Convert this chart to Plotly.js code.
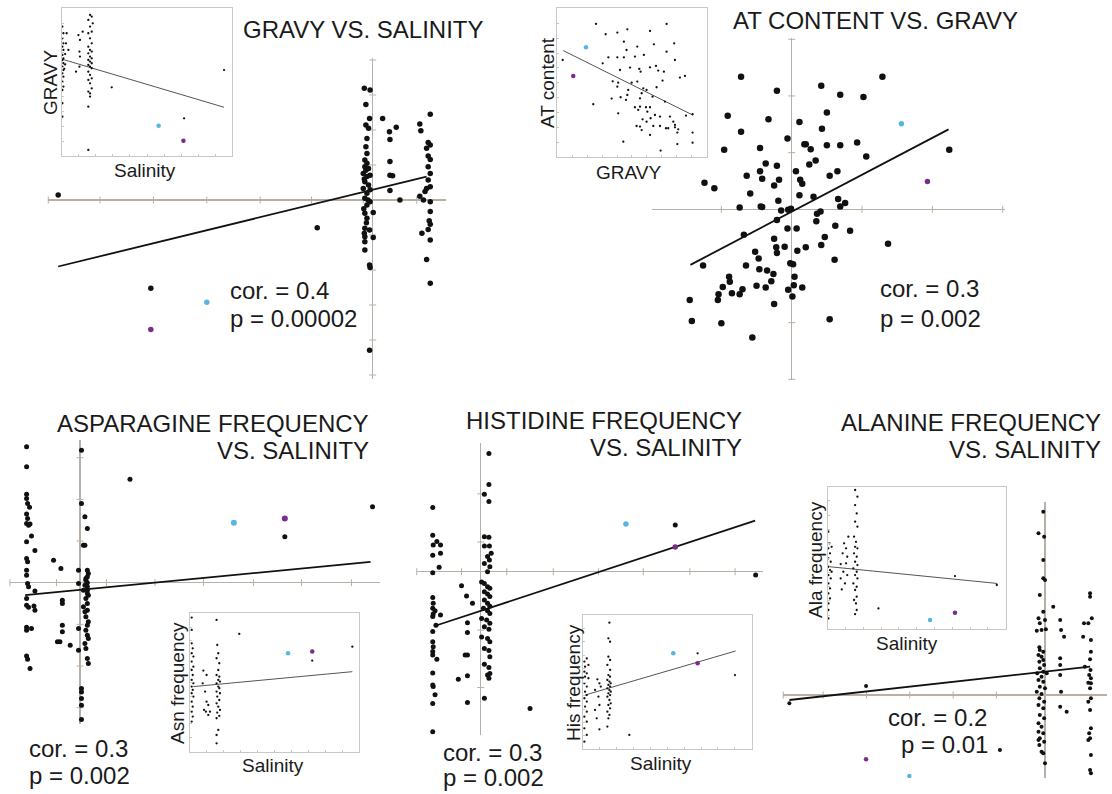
<!DOCTYPE html>
<html><head><meta charset="utf-8">
<script src="https://cdn.plot.ly/plotly-3.0.1.min.js"></script>
<style>html,body{margin:0;padding:0;background:#fff}#chart{width:1112px;height:794px}</style>
</head><body><div id="chart"></div><script>
// ---------- Panel 1: GRAVY vs salinity (main) ----------
const gravySalPts = [[-0.16,3.19],[-0.05,3.14],[-0.13,2.73],[-0.06,2.33],[-0.13,2.14],[-0.08,2.05],[-0.11,1.76],[-0.13,1.52],[-0.11,1.33],[-0.15,1.14],[-0.11,1.05],[-0.15,0.95],[-0.08,0.90],[-0.18,0.76],[-0.11,0.67],[-0.05,0.71],[-0.15,0.52],[-0.08,0.43],[-0.18,0.33],[-0.05,0.29],[-0.11,0.19],[-0.15,0.05],[-0.05,-0.05],[-0.11,-0.14],[0.01,-0.36],[-0.15,-0.38],[-0.11,-0.52],[-0.15,-0.81],[-0.06,-0.86],[0.01,-1.07],[-0.15,-1.05],[-0.15,-1.19],[-0.15,-1.43],[-0.06,-1.86],[-0.05,-1.93],[-0.13,0.85],[-0.16,0.60],[-0.09,0.0],[-0.17,-0.25],[-0.12,-0.65],[-0.16,-0.95],
[0.19,2.33],[0.32,1.95],[0.45,2.08],[0.33,1.73],[0.33,1.10],[0.33,0.71],[0.38,0.69],[0.33,0.27],[0.52,0.0],
[1.10,2.45],[0.90,2.17],[0.92,1.98],[1.06,1.64],[1.10,1.57],[1.03,1.48],[1.06,1.26],[1.10,1.16],[1.06,0.95],[1.10,0.76],[1.06,0.57],[1.10,0.38],[1.03,0.33],[1.0,0.24],[0.90,0.11],[0.97,0],[1.10,-0.05],[1.10,-0.33],[1.08,-0.59],[1.10,-0.69],[1.06,-0.84],[0.94,-0.95],[1.10,-1.14],[1.03,-1.70],[1.10,-2.38],
[-6.01,0.14],[-1.06,-0.79],[-4.24,-2.52],[-0.06,-4.29]];
const gravySalCyan = [[-3.17,-2.92]];
const gravySalPurple = [[-4.24,-3.70]];
const gravySalFitX = [-6.01,1.03];
const gravySalFitY = [-1.90,0.67];
const gravySalTickX = [-6.2,-5.21,-4.19,-3.17,-2.15,-1.17,-0.18,0.84];
const gravySalTickY = [-5,-4,-3,-2,-1,1,2,3,4];
// inset
const gravySalInPts = [[0.04,8.76],[0.1,8.31],[0.04,7.97],[0.1,7.63],[0.04,7.40],[0.1,7.18],[0.04,6.84],[0.1,6.61],[0.04,6.50],[0.1,6.28],[0.04,6.05],[0.1,5.82],[0.04,5.60],[0.1,5.37],[0.04,5.03],[0.1,4.70],[0.04,4.47],[0.04,3.57],[0.04,2.66],[0.2,6.9],[0.2,6.2],[0.15,5.9],
[0.29,8.31],[0.25,7.63],[0.39,7.18],[0.98,8.19],[1.07,7.86],[1.04,7.07],[1.07,6.73],[0.84,5.71],[1.04,6.05],[1.23,8.42],
[1.66,9.55],[1.76,9.44],[1.56,9.21],[1.82,8.98],[1.66,8.76],[1.76,8.42],[1.56,8.31],[1.66,7.97],[1.76,7.63],[1.56,7.40],[1.66,7.18],[1.76,7.07],[1.56,6.95],[1.66,6.73],[1.76,6.61],[1.56,6.50],[1.66,6.39],[1.76,6.28],[1.56,6.16],[1.66,6.05],[1.76,5.94],[1.56,5.71],[1.66,5.49],[1.76,5.26],[1.56,5.15],[1.66,4.92],[1.76,4.58],[1.56,4.36],[1.66,4.24],[1.66,4.02],[1.56,3.34],[1.56,0.41],
[2.93,4.65],[9.51,5.82],[7.17,2.55]];
const gravySalInCyan = [[5.68,2.05]];
const gravySalInPurple = [[7.13,1.04]];
const gravySalInFitX = [0.04,9.51];
const gravySalInFitY = [6.55,3.30];

// ---------- Panel 2: AT content vs GRAVY ----------
const atGravyPts = [[-0.72,2.34],[-0.21,2.09],[0.42,2.18],[0.69,2.02],[1.29,2.34],[1.02,1.98],[-0.91,1.65],[-0.33,1.59],[0.11,1.54],[0.50,1.71],[-0.72,1.37],[0.43,1.42],[-0.06,1.25],[-0.96,1.05],[-0.45,1.08],[0.18,1.15],[0.20,1.15],[0.27,1.06],[0.50,1.13],[0.69,1.13],[0.93,1.18],[1.06,0.93],[2.24,1.05],[-0.37,0.81],[-0.21,0.77],[-0.45,0.67],[0.06,0.67],[0.25,0.79],[0.34,0.86],[0.65,0.67],[0.54,0.59],[-0.64,0.59],[-0.42,0.54],[-0.18,0.52],[0.12,0.52],[-0.25,0.42],[0.15,0.45],[-1.24,0.47],[-1.10,0.37],[-0.59,0.28],[0.31,0.22],[0.66,0.18],[0.76,0.11],[0.11,0.25],[-0.19,0.15],[-0.74,0.03],[-0.44,0.05],[-0.42,0.04],[-0.15,-0.02],[-0.05,-0.01],[-0.01,0.01],[0.69,0.05],[0.41,-0.04],[0.36,-0.08],[-0.21,-0.19],[-0.06,-0.34],[0.07,-0.34],[0.35,-0.21],[0.47,-0.49],[0.62,-0.29],[0.83,-0.38],[-0.68,-0.45],[0.61,-0.89],[1.37,-0.61],[-0.25,-0.52],[-0.22,-0.67],[-0.10,-0.66],[-0.21,-0.77],[0.08,-0.73],[0.20,-0.67],[0.42,-0.63],[-0.52,-0.75],[-0.47,-0.87],[-0.65,-0.99],[-0.02,-0.95],[0.02,-0.97],[-0.46,-1.06],[-0.26,-1.14],[-0.35,-1.08],[-0.29,-1.27],[0.04,-1.19],[-0.89,-1.19],[-0.88,-1.28],[-0.98,-1.37],[-1.04,-1.50],[-1.05,-1.60],[-0.85,-1.48],[-0.74,-1.50],[-0.70,-1.41],[-0.50,-1.35],[-0.37,-1.38],[0.03,-1.34],[0.15,-1.38],[-0.05,-1.42],[0.01,-1.54],[-0.25,-1.67],[-1.45,-1.60],[-1.42,-1.97],[-1.00,-2.01],[-0.56,-2.26],[0.54,-1.94],[-1.26,-0.99]];
const atGravyCyan = [[1.56,1.51]];
const atGravyPurple = [[1.93,0.49]];
const atGravyFitX = [-1.44,2.23];
const atGravyFitY = [-0.98,1.41];
const atGravyTickX = [-2,-1,1,2,3];
const atGravyTickY = [-3,-2,-1,1,2,3];
const atGravyInPts = [[0.36,6.53],[2.59,8.95],[3.24,8.26],[4.02,8.37],[4.69,8.59],[6.21,8.48],[7.32,8.95],[4.46,7.76],[6.47,7.58],[7.83,7.65],[5.36,7.43],[7.32,7.09],[3.42,6.71],[4.02,6.71],[4.46,6.71],[5.20,6.76],[4.64,7.20],[3.04,6.31],[5.80,6.87],[7.88,6.53],[6.21,6.04],[6.61,6.13],[6.76,5.82],[7.14,5.75],[4.20,5.86],[4.87,6.02],[5.49,5.93],[5.58,5.75],[8.21,5.35],[8.55,5.46],[3.71,5.10],[4.08,5.01],[5.36,5.08],[7.05,5.15],[4.98,5.01],[4.02,4.74],[5.76,4.63],[5.98,4.52],[4.75,4.52],[6.65,4.70],[5.65,4.30],[4.69,4.18],[3.64,3.94],[4.24,4.03],[5.54,3.96],[6.38,4.07],[2.41,3.56],[4.60,3.85],[7.21,3.74],[5.54,3.40],[5.20,3.36],[5.94,3.36],[6.21,3.36],[5.42,3.18],[6.03,3.06],[4.08,2.95],[8.62,2.80],[9.06,2.89],[6.54,2.84],[6.88,2.73],[7.54,2.73],[6.25,2.62],[5.71,2.55],[7.77,2.39],[7.88,2.17],[5.31,2.10],[5.54,2.06],[6.43,2.10],[6.88,2.10],[7.28,1.95],[7.43,1.95],[7.88,2.01],[8.10,1.88],[8.04,1.66],[9.06,1.66],[6.21,1.50],[4.42,1.05],[8.04,0.89],[9.06,0.98],[6.92,0.45],[5.65,1.83],[5.98,2.39]];
const atGravyInCyan = [[1.92,7.38]];
const atGravyInPurple = [[1.07,5.46]];
const atGravyInFitX = [0.40,9.06];
const atGravyInFitY = [7.16,2.84];

// ---------- Panel 3: Asparagine frequency vs salinity ----------
const asnSalPts = [[-1.09,3.26],[-1.09,2.78],[-1.09,2.12],[-1.09,2.02],[-1.07,1.90],[-1.03,1.81],[-1.09,1.65],[-1.07,1.54],[-1.09,1.42],[-1.05,1.38],[-1.02,1.41],[-0.99,1.12],[-1.09,0.98],[-0.92,0.77],[-1.09,0.58],[-1.07,0.50],[-1.09,0.18],[-1.07,-0.02],[-1.05,-0.10],[-0.92,-0.20],[-1.09,-0.38],[-1.09,-0.54],[-1.05,-0.59],[-0.94,-0.56],[-0.92,-0.66],[-1.09,-1.07],[-0.99,-1.10],[-1.09,-1.14],[-1.09,-1.76],[-1.07,-1.84],[-1.02,-2.06],[-1.09,0.30],
[-0.54,0.54],[-0.39,0.34],[-0.36,-0.42],[-0.36,-0.50],[-0.36,-1.02],[-0.36,-1.18],[-0.46,-1.42],[-0.41,-1.42],[-0.20,-1.50],[-0.03,0.30],[-0.03,-0.02],
[0.03,3.18],[0.03,1.90],[0.10,1.58],[0.15,1.30],[0.07,0.90],[0.10,0.90],[0.15,0.30],[0.17,0.22],[0.15,0.14],[0.12,0.06],[0.15,0],[0.10,-0.06],[0.15,-0.10],[0.07,-0.18],[0.15,-0.26],[0.12,-0.38],[0.15,-0.50],[0.07,-0.58],[0.15,-0.66],[0.12,-0.82],[0.17,-0.94],[0.15,-1.02],[0.12,-1.14],[0.15,-1.26],[0.17,-1.34],[0.10,-1.46],[0.12,-1.58],[0.15,-1.82],[0.17,-1.94],[-0.03,-1.10],[-0.03,-1.62],[0.03,-2.54],[0.03,-2.62],[0.03,-2.78],[0.03,-2.94],[0.03,-3.28],[0.15,-0.18],[0.12,0.10],[0.17,-0.30],[0.10,-0.70],
[1.02,2.48],[4.18,1.10],[5.97,1.82]];
const asnSalCyan = [[3.14,1.44]];
const asnSalPurple = [[4.18,1.54]];
const asnSalFitX = [-1.12,5.93];
const asnSalFitY = [-0.30,0.50];
const asnSalTickX = [-1.43,-0.48,0.54,1.53,2.52,3.54,4.52,5.54];
const asnSalTickY = [-3,-2,-1,1,2,3];
const asnSalInPts = [[0.10,9.69],[0.10,8.80],[0.10,7.83],[0.16,7.47],[0.10,7.11],[0.20,6.87],[0.10,6.51],[0.20,6.14],[0.10,5.90],[0.16,5.54],[0.10,5.18],[0.20,4.94],[0.10,4.70],[0.16,4.46],[0.10,4.22],[0.20,3.98],[0.10,3.61],[0.16,3.25],[0.10,2.89],[0.16,2.53],[0.10,2.17],
[0.79,5.86],[0.98,5.54],[0.89,4.34],[0.98,3.61],[1.08,3.37],[0.83,3.01],[0.94,2.89],[1.08,2.65],[1.18,2.89],[0.75,4.94],
[1.57,9.52],[1.61,7.71],[1.67,7.11],[1.57,6.75],[1.73,6.39],[1.67,5.90],[1.57,5.54],[1.73,5.42],[1.67,5.18],[1.77,5.06],[1.57,4.94],[1.67,4.70],[1.73,4.58],[1.57,4.34],[1.77,4.22],[1.61,3.98],[1.73,3.73],[1.57,3.49],[1.67,3.25],[1.77,3.01],[1.61,2.82],[1.73,2.58],[1.57,2.41],[1.67,1.57],[1.57,1.20],[1.57,0.60],
[2.91,8.51],[9.59,7.59],[7.22,6.58]];
const asnSalInCyan = [[5.79,7.11]];
const asnSalInPurple = [[7.22,7.23]];
const asnSalInFitX = [0.20,9.59];
const asnSalInFitY = [4.70,5.78];

// ---------- Panel 4: Histidine frequency vs salinity ----------
const hisSalPts = [[-1.05,1.32],[-1.05,0.75],[-1.04,0.55],[-0.96,0.62],[-0.88,0.55],[-1.05,0.34],[-0.88,0.38],[-0.91,0.09],[-1.05,-0.02],[-1.05,-0.53],[-1.04,-0.65],[-1.05,-0.75],[-1.00,-0.80],[-1.04,-0.87],[-0.88,-0.89],[-0.98,-1.10],[-1.05,-1.44],[-1.04,-1.54],[-1.05,-1.64],[-1.05,-1.71],[-0.96,-1.80],[-1.05,-2.08],[-1.05,-2.33],[-1.04,-2.36],[-1.00,-2.53],[-1.05,-2.71],[-1.05,-3.29],[-1.05,-0.92],[-1.05,-1.23],
[-0.42,-0.29],[-0.31,-0.50],[-0.18,-0.65],[-0.29,-1.05],[-0.29,-1.25],[-0.34,-1.71],[-0.29,-1.71],[-0.49,-2.21],[-0.29,-2.14],[-0.29,-2.69],
[0.18,2.43],[0.18,1.79],[0.08,1.59],[0.18,1.44],[0.08,0.72],[0.18,0.71],[0.08,0.53],[0.19,0.53],[0.23,0.38],[0.15,0.31],[0.19,0.24],[0.08,0.17],[0.20,0.10],[0.15,0],[0.02,-0.21],[0.08,-0.24],[0.15,-0.31],[0.20,-0.34],[0.08,-0.41],[0.15,-0.46],[0.20,-0.51],[0.08,-0.58],[0.15,-0.65],[0.20,-0.71],[0.06,-0.75],[0.15,-0.80],[0.20,-0.86],[0.02,-0.96],[0.13,-0.99],[0.20,-1.06],[0.08,-1.13],[0.18,-1.18],[0.02,-1.34],[0.15,-1.37],[0.20,-1.44],[0.08,-1.58],[0.18,-1.62],[0.20,-1.75],[0.08,-1.90],[0.18,-1.97],[0.20,-2.09],[0.15,-2.12],[0.08,-2.60],[0.18,-2.19],
[1.08,-2.81],[4.26,0.96],[6.02,-0.07]];
const hisSalCyan = [[3.18,0.98]];
const hisSalPurple = [[4.26,0.51]];
const hisSalFitX = [-0.96,6.01];
const hisSalFitY = [-1.10,1.05];
const hisSalTickX = [-1.40,-0.42,0.57,1.59,2.58,3.56,4.58,5.57];
const hisSalTickY = [1.60,0.61,-1.2,-2.38];
const hisSalInPts = [[0.10,6.53],[0.24,6.77],[0.14,6.15],[0.34,6.28],[0.10,5.78],[0.24,5.66],[0.14,5.41],[0.34,5.29],[0.10,4.91],[0.24,4.67],[0.14,4.29],[0.24,4.04],[0.10,3.80],[0.24,3.55],[0.14,3.18],[0.24,2.80],[0.10,2.43],[0.24,2.06],[0.10,1.56],[0.10,0.57],[0.24,1.07],
[0.87,5.21],[0.99,4.91],[1.07,4.67],[0.73,4.42],[0.93,3.92],[0.99,3.30],[0.73,2.93],[0.99,1.49],[1.46,1.69],[0.83,2.31],
[1.58,9.43],[1.52,8.26],[1.62,8.01],[1.52,6.90],[1.62,6.65],[1.46,6.28],[1.62,5.91],[1.52,5.53],[1.62,5.41],[1.46,5.16],[1.58,5.04],[1.66,4.91],[1.52,4.79],[1.62,4.67],[1.46,4.54],[1.58,4.42],[1.66,4.29],[1.52,4.17],[1.62,4.04],[1.46,3.92],[1.58,3.67],[1.66,3.42],[1.52,3.30],[1.62,3.05],[1.46,2.80],[1.58,2.56],[1.52,2.31],
[2.76,1.07],[6.80,7.15],[9.01,5.53]];
const hisSalInCyan = [[5.36,7.15]];
const hisSalInPurple = [[6.80,6.40]];
const hisSalInFitX = [0.14,9.05];
const hisSalInFitY = [4.04,7.32];

// ---------- Panel 5: Alanine frequency vs salinity ----------
const alaSalPts = [[-0.04,5.50],[-0.15,4.85],[-0.02,4.75],[-0.04,4.05],[-0.04,3.50],[0,3.45],[-0.12,3.00],[-0.04,2.50],[-0.15,2.30],[-0.12,2.15],[0,2.25],[-0.19,1.93],[-0.08,1.95],[0.02,1.97],[-0.13,1.43],[-0.12,1.35],[-0.04,1.30],[-0.15,1.20],[-0.08,1.15],[-0.04,1.05],[-0.13,1.00],[-0.02,0.90],[-0.12,0.80],[-0.04,0.70],[-0.18,0.65],[0.04,0.65],[-0.08,0.55],[-0.15,0.45],[-0.04,0.40],[-0.12,0.25],[0,0.20],[-0.19,0.10],[-0.08,0.03],[-0.13,-0.10],[-0.02,-0.20],[-0.15,-0.30],[-0.04,-0.40],[-0.12,-0.60],[-0.02,-0.70],[-0.15,-0.85],[-0.08,-0.95],[-0.15,-1.10],[-0.04,-1.15],[-0.12,-1.30],[-0.02,-1.40],[-0.13,-1.50],[-0.04,-1.75],[0,-2.05],[-0.15,-1.35],[-0.08,-1.70],
[0.19,2.65],[0.35,2.25],[0.37,1.95],[0.44,1.75],[0.35,1.10],[0.35,0.90],[0.35,0.60],[0.37,0.10],[0.35,-0.35],[0.50,-0.50],
[1.04,3.05],[1.04,2.95],[1.08,2.30],[0.90,2.15],[1.0,2.15],[0.88,1.75],[1.06,1.65],[1.06,1.30],[0.92,0.85],[1.04,1.07],[1.05,0.75],[1.02,0.60],[1.06,0.50],[1.0,0.37],[1.04,0.20],[1.06,-0.10],[1.0,-0.20],[1.04,-0.45],[1.06,-1.0],[1.02,-1.15],[1.04,-1.30],[1.0,-1.35],[1.06,-1.80],[1.04,-2.25],[1.06,-2.35],[1.06,0.35],
[-5.90,-0.25],[-4.13,0.27],[-1.04,-1.65]];
const alaSalCyan = [[-3.13,-2.43]];
const alaSalPurple = [[-4.13,-1.93]];
const alaSalFitX = [-5.90,1.04];
const alaSalFitY = [-0.15,0.85];
const alaSalTickX = [-6.04,-5.12,-4.12,-3.12,-2.12,-1.12];
const alaSalTickY = [];
const alaSalInPts = [[0.04,6.85],[0.09,6.03],[0.04,5.68],[0.13,5.33],[0.04,4.98],[0.17,4.74],[0.04,4.39],[0.13,4.16],[0.04,3.81],[0.17,3.57],[0.04,3.22],[0.13,2.87],[0.04,2.52],[0.13,2.17],[0.04,1.82],[0.04,1.36],[0.04,0.77],[0.22,5.79],[0.22,4.04],
[1.16,6.50],[0.92,6.03],[1.03,5.68],[0.84,5.33],[1.10,5.09],[0.73,4.58],[1.03,4.63],[0.88,4.04],[1.10,3.81],[0.79,2.80],[0.97,3.22],[0.73,3.57],
[1.54,9.77],[1.67,9.30],[1.54,8.71],[1.63,8.13],[1.54,7.55],[1.67,7.20],[1.48,6.50],[1.59,6.14],[1.54,5.79],[1.67,5.68],[1.48,5.33],[1.63,5.09],[1.54,4.74],[1.67,4.51],[1.44,4.28],[1.63,4.04],[1.54,3.81],[1.67,3.57],[1.44,3.22],[1.63,2.99],[1.54,2.76],[1.63,2.29],[1.48,2.06],[1.59,1.82],[1.54,1.07],[1.63,1.36],
[2.85,1.47],[7.15,3.74],[9.50,3.11]];
const alaSalInCyan = [[5.75,0.65]];
const alaSalInPurple = [[7.15,1.17]];
const alaSalInFitX = [0.13,9.53];
const alaSalInFitY = [4.39,3.22];

// ---------- text ----------
const titles = [
  {t:'GRAVY VS. SALINITY', x:363, y:29, a:'center'},
  {t:'AT CONTENT VS. GRAVY', x:875, y:20, a:'center'},
  {t:'ASPARAGINE FREQUENCY', x:371, y:424, a:'right'},
  {t:'VS. SALINITY', x:371, y:450, a:'right'},
  {t:'HISTIDINE FREQUENCY', x:744, y:420, a:'right'},
  {t:'VS. SALINITY', x:744, y:447, a:'right'},
  {t:'ALANINE FREQUENCY', x:1103, y:422, a:'right'},
  {t:'VS. SALINITY', x:1103, y:449, a:'right'},
  {t:'cor. = 0.4', x:228, y:290, a:'left'},
  {t:'p = 0.00002', x:228, y:318, a:'left'},
  {t:'cor. = 0.3', x:878, y:289, a:'left'},
  {t:'p = 0.002', x:878, y:318, a:'left'},
  {t:'cor. = 0.3', x:27, y:748, a:'left'},
  {t:'p = 0.002', x:27, y:775, a:'left'},
  {t:'cor. = 0.3', x:441, y:752, a:'left'},
  {t:'p = 0.002', x:441, y:777, a:'left'},
  {t:'cor. = 0.2', x:886, y:717, a:'left'},
  {t:'p = 0.01', x:899, y:744, a:'left'}
];
const insetLabels = [
  {t:'GRAVY', x:50, y:83, r:-90}, {t:'Salinity', x:145, y:171, r:0},
  {t:'AT content', x:547, y:83, r:-90}, {t:'GRAVY', x:628, y:172, r:0},
  {t:'Asn frequency', x:177, y:683, r:-90}, {t:'Salinity', x:273, y:765, r:0},
  {t:'His frequency', x:573, y:683, r:-90}, {t:'Salinity', x:661, y:763, r:0},
  {t:'Ala frequency', x:815, y:560, r:-90}, {t:'Salinity', x:907, y:643, r:0}
];

// ---------- layout geometry (pixels) ----------
const W = 1112, H = 794;
const mains = [
  {pts:gravySalPts, c:gravySalCyan, p:gravySalPurple, fx:gravySalFitX, fy:gravySalFitY, tx:gravySalTickX, ty:gravySalTickY, ox:372.7, oy:200, sx:52.33, sy:35, xr:[-6.2,1.41], yr:[-5.1,4.05], ms:5.5, cs:5.5},
  {pts:atGravyPts, c:atGravyCyan, p:atGravyPurple, fx:atGravyFitX, fy:atGravyFitY, tx:atGravyTickX, ty:atGravyTickY, ox:791.7, oy:209.3, sx:70.33, sy:56.67, xr:[-1.99,3.03], yr:[-3.01,3.02], ms:6.5, cs:5.5},
  {pts:asnSalPts, c:asnSalCyan, p:asnSalPurple, fx:asnSalFitX, fy:asnSalFitY, tx:asnSalTickX, ty:asnSalTickY, ox:80, oy:582.7, sx:49, sy:41.67, xr:[-1.43,6.12], yr:[-3.38,3.42], ms:5, cs:6},
  {pts:hisSalPts, c:hisSalCyan, p:hisSalPurple, fx:hisSalFitX, fy:hisSalFitY, tx:hisSalTickX, ty:hisSalTickY, ox:480.7, oy:571.7, sx:45.67, sy:48.67, xr:[-1.40,6.19], yr:[-3.36,2.64], ms:5, cs:5.5},
  {pts:alaSalPts, c:alaSalCyan, p:alaSalPurple, fx:alaSalFitX, fy:alaSalFitY, tx:alaSalTickX, ty:alaSalTickY, ox:1045, oy:695, sx:43.33, sy:33.33, xr:[-6.04,1.42], yr:[-2.5,5.8], ms:4, cs:4.5}
];
const insets = [
  {pts:gravySalInPts, c:gravySalInCyan, p:gravySalInPurple, fx:gravySalInFitX, fy:gravySalInFitY, l:61.7, t:8.3, w:170.7, h:147.7},
  {pts:atGravyInPts, c:atGravyInCyan, p:atGravyInPurple, fx:atGravyInFitX, fy:atGravyInFitY, l:557.3, t:8.3, w:149.3, h:149},
  {pts:asnSalInPts, c:asnSalInCyan, p:asnSalInPurple, fx:asnSalInFitX, fy:asnSalInFitY, l:190, t:613.3, w:169.3, h:138.3},
  {pts:hisSalInPts, c:hisSalInCyan, p:hisSalInPurple, fx:hisSalInFitX, fy:hisSalInFitY, l:582.7, t:615, w:169, h:134.3},
  {pts:alaSalInPts, c:alaSalInCyan, p:alaSalInPurple, fx:alaSalInFitX, fy:alaSalInFitY, l:827.7, t:486.7, w:178, h:142.7}
];

const AX = '#b8afa6', BOX = '#cdc7c1', BLK = '#111111', CY = '#5ab4e3', PU = '#7a2c8c';
const FONT = 'Liberation Sans, Arial, Helvetica, sans-serif';
const clamp = v => Math.max(0, Math.min(1, v));
const traces = [];
const layout = {width:W, height:H, margin:{l:0,r:0,t:0,b:0}, paper_bgcolor:'#fff', plot_bgcolor:'rgba(0,0,0,0)', showlegend:false, annotations:[]};

function addPoints(ax, ay, pts, color, size) {
  traces.push({type:'scatter', mode:'markers', xaxis:ax, yaxis:ay, x:pts.map(d=>d[0]), y:pts.map(d=>d[1]),
    marker:{color:color, size:size, line:{width:0}}, hoverinfo:'skip'});
}
function addFit(ax, ay, fx, fy, w, col) {
  traces.push({type:'scatter', mode:'lines', xaxis:ax, yaxis:ay, x:fx, y:fy, line:{color:col, width:w}, hoverinfo:'skip'});
}

mains.forEach((m, i) => {
  const n = i + 1, xa = 'x' + (n === 1 ? '' : n), ya = 'y' + (n === 1 ? '' : n);
  layout['xaxis' + (n === 1 ? '' : n)] = {domain:[clamp((m.ox + m.sx*m.xr[0])/W), clamp((m.ox + m.sx*m.xr[1])/W)], range:m.xr, anchor:ya,
    showgrid:false, zeroline:true, zerolinecolor:AX, zerolinewidth:1.5, showline:false, showticklabels:false, ticks:'', fixedrange:true};
  layout['yaxis' + (n === 1 ? '' : n)] = {domain:[clamp(1 - (m.oy - m.sy*m.yr[0])/H), clamp(1 - (m.oy - m.sy*m.yr[1])/H)], range:m.yr, anchor:xa,
    showgrid:false, zeroline:true, zerolinecolor:AX, zerolinewidth:1.5, showline:false, showticklabels:false, ticks:'', fixedrange:true};
  traces.push({type:'scatter', mode:'markers', xaxis:xa, yaxis:ya, x:m.tx, y:m.tx.map(()=>0),
    marker:{symbol:'line-ns', size:5, line:{width:1, color:AX}}, hoverinfo:'skip', cliponaxis:false});
  if (m.ty.length) traces.push({type:'scatter', mode:'markers', xaxis:xa, yaxis:ya, x:m.ty.map(()=>0), y:m.ty,
    marker:{symbol:'line-ew', size:5, line:{width:1, color:AX}}, hoverinfo:'skip', cliponaxis:false});
  addFit(xa, ya, m.fx, m.fy, 1.8, BLK);
  addPoints(xa, ya, m.pts, BLK, m.ms);
  addPoints(xa, ya, m.c, CY, m.cs);
  addPoints(xa, ya, m.p, PU, m.cs);
});

insets.forEach((s, i) => {
  const n = i + 6, xa = 'x' + n, ya = 'y' + n;
  const ax = {showgrid:false, zeroline:false, showline:true, mirror:true, linecolor:BOX, linewidth:1,
    ticks:'inside', ticklen:2, tickcolor:BOX, dtick:1, tick0:0, showticklabels:false, range:[0,10], fixedrange:true};
  layout['xaxis' + n] = Object.assign({}, ax, {domain:[s.l/W, (s.l + s.w)/W], anchor:ya});
  layout['yaxis' + n] = Object.assign({}, ax, {domain:[1 - (s.t + s.h)/H, 1 - s.t/H], anchor:xa});
  addFit(xa, ya, s.fx, s.fy, 1, '#555');
  addPoints(xa, ya, s.pts, BLK, 2.3);
  addPoints(xa, ya, s.c, CY, 4.5);
  addPoints(xa, ya, s.p, PU, 4.5);
});

titles.forEach(d => layout.annotations.push({xref:'paper', yref:'paper', x:d.x/W, y:1 - d.y/H, xanchor:d.a, yanchor:'middle',
  text:d.t, showarrow:false, font:{family:FONT, size:24, color:'#1a1a1a'}}));
insetLabels.forEach(d => layout.annotations.push({xref:'paper', yref:'paper', x:d.x/W, y:1 - d.y/H, xanchor:'center', yanchor:'middle',
  text:d.t, textangle:d.r, showarrow:false, font:{family:FONT, size:19, color:'#1a1a1a'}}));

Plotly.newPlot('chart', traces, layout, {staticPlot:true, displayModeBar:false});
</script></body></html>
